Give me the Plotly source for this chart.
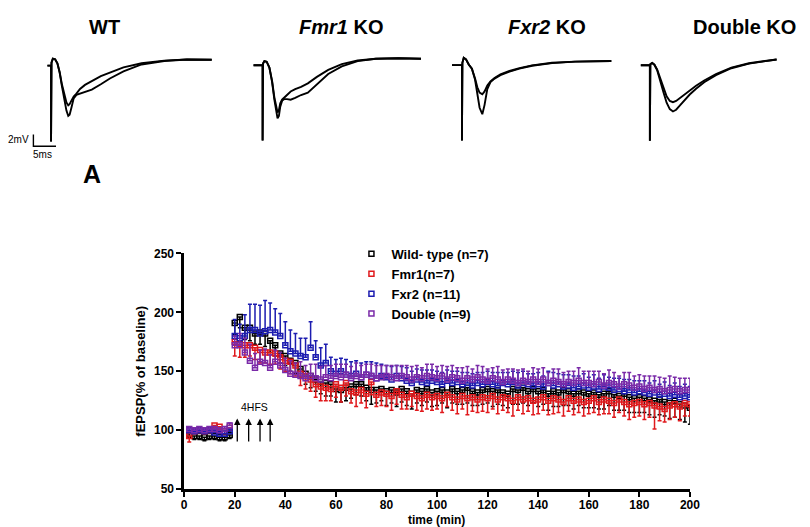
import plotly.graph_objects as go

W, H = 810, 527

# ---------------- LTP time course data ----------------
times = list(range(2, 201, 2))  # 2..200 min

wt_mean = [97, 95, 95, 94, 95, 95, 94, 94, 96,
           191, 196, 187, 187, 182, 183, 182, 176, 172, 165,
           163, 159, 157, 152, 148, 146, 143, 141, 140, 139,
           135, 134, 136, 137, 139, 139, 136, 134, 134, 135,
           133, 134, 132, 135, 133, 131, 134, 133, 135, 132,
           133, 134, 132, 135, 133, 134, 136, 133, 132, 134,
           135, 133, 134, 132, 131, 135, 134, 136, 133, 135,
           133, 134, 131, 133, 132, 134, 133, 131, 133, 132,
           131, 132, 130, 131, 133, 130, 129, 131, 128, 127,
           128, 127, 126, 125, 126, 124, 123, 125, 122, 121,
           119]
wt_err = [3, 3, 3, 3, 3, 3, 3, 3, 3,
          10, 9, 10, 11, 9, 10, 11, 10, 9, 8,
          8, 9, 9, 8, 9, 10, 10, 10, 11, 10,
          11, 10, 11, 10, 9, 10, 11, 12, 11, 10,
          12, 11, 12, 11, 12, 13, 11, 12, 11, 12,
          12, 11, 13, 12, 11, 12, 13, 12, 11, 12,
          12, 13, 12, 11, 12, 13, 12, 13, 12, 12,
          13, 12, 14, 13, 12, 13, 12, 13, 12, 13,
          12, 13, 12, 13, 12, 13, 12, 14, 13, 12,
          13, 12, 13, 14, 13, 12, 13, 14, 13, 14,
          14]

fmr1_mean = [95, 99, 100, 99, 100, 104, 103, 99, 102,
             175, 173, 172, 172, 170, 168, 166, 166, 165, 162,
             159, 158, 155, 148, 146, 143, 139, 137, 136, 135,
             139, 136, 140, 133, 132, 134, 131, 141, 130, 132,
             131, 129, 133, 130, 128, 131, 129, 127, 130, 128,
             129, 127, 130, 128, 126, 129, 127, 128, 126, 128,
             127, 129, 126, 128, 127, 125, 128, 126, 127, 125,
             126, 128, 125, 127, 126, 124, 127, 125, 126, 124,
             125, 127, 124, 126, 125, 123, 126, 124, 122, 123,
             124, 122, 123, 121, 120, 118, 121, 122, 120, 123,
             122]
fmr1_err = [5, 2, 2, 2, 2, 2, 2, 2, 2,
            12, 11, 10, 9, 10, 11, 9, 10, 9, 10,
            9, 10, 9, 10, 11, 10, 11, 12, 11, 10,
            11, 12, 11, 10, 12, 11, 12, 11, 10, 11,
            11, 12, 11, 12, 10, 11, 12, 11, 12, 11,
            11, 12, 10, 11, 12, 11, 14, 12, 11, 12,
            12, 11, 12, 11, 12, 13, 11, 12, 11, 12,
            12, 11, 12, 13, 11, 12, 11, 12, 11, 12,
            11, 12, 11, 12, 11, 12, 11, 12, 13, 12,
            12, 13, 12, 20, 12, 11, 12, 11, 12, 11,
            10]

fxr2_mean = [100, 99, 100, 99, 100, 98, 97, 97, 99,
             180, 178, 180, 185, 185, 182, 184, 185, 183, 180,
             172, 167, 165, 163, 162, 170, 162, 155, 157, 150,
             148, 150, 147, 146, 148, 145, 147, 146, 144, 146,
             145, 143, 146, 144, 142, 140, 143, 141, 140, 142,
             141, 139, 142, 140, 141, 139, 140, 138, 140, 139,
             141, 139, 138, 140, 139, 141, 138, 140, 139, 138,
             139, 137, 140, 138, 139, 137, 138, 136, 137, 138,
             136, 137, 135, 137, 136, 134, 135, 133, 134, 132,
             133, 132, 131, 132, 130, 131, 129, 130, 128, 129,
             128]
fxr2_err = [2, 2, 2, 2, 2, 2, 2, 2, 2,
            14, 12, 18, 22, 22, 24, 26, 23, 20, 19,
            20, 18, 17, 15, 16, 22, 14, 15, 16, 12,
            12, 11, 13, 12, 11, 12, 11, 12, 13, 10,
            10, 11, 9, 10, 11, 10, 9, 10, 11, 9,
            9, 10, 9, 10, 9, 10, 9, 10, 9, 10,
            9, 10, 11, 9, 10, 9, 11, 10, 9, 10,
            10, 9, 10, 11, 9, 10, 9, 10, 9, 10,
            9, 10, 9, 10, 9, 10, 9, 10, 9, 10,
            9, 10, 9, 10, 9, 10, 9, 10, 9, 10,
            9]

double_mean = [101, 100, 101, 100, 101, 101, 100, 101, 104,
               172, 172, 166, 159, 153, 158, 157, 153, 158, 155,
               151, 148, 147, 146, 144, 146, 144, 143, 145, 144,
               146, 145, 147, 144, 146, 145, 147, 146, 144, 145,
               146, 145, 144, 146, 145, 143, 145, 144, 146, 145,
               144, 146, 143, 145, 144, 142, 144, 143, 145, 143,
               142, 144, 143, 141, 143, 142, 140, 142, 141, 143,
               141, 143, 140, 142, 141, 139, 141, 140, 142, 140,
               140, 139, 141, 138, 140, 139, 137, 139, 138, 136,
               137, 135, 136, 134, 135, 133, 134, 135, 133, 134,
               134]
double_err = [2, 2, 2, 2, 2, 2, 2, 2, 2,
              8, 10, 12, 14, 12, 10, 12, 11, 10, 11,
              10, 11, 10, 12, 11, 10, 12, 11, 10, 11,
              10, 11, 9, 10, 11, 10, 9, 10, 11, 10,
              9, 10, 11, 9, 10, 11, 10, 9, 10, 11,
              10, 9, 11, 10, 9, 11, 10, 9, 10, 11,
              10, 9, 11, 10, 9, 10, 11, 10, 9, 10,
              11, 10, 9, 10, 11, 10, 9, 10, 11, 10,
              10, 11, 9, 10, 11, 10, 9, 10, 11, 10,
              10, 11, 10, 12, 10, 11, 12, 10, 11, 10,
              10]

series_names = ["Wild- type (n=7)", "Fmr1(n=7)", "Fxr2 (n=11)", "Double (n=9)"]
hfs_times = [21, 25.5, 30, 34]
hfs_arrow_from, hfs_arrow_to = 89, 110
x_ticks = [0, 20, 40, 60, 80, 100, 120, 140, 160, 180, 200]
y_ticks = [50, 100, 150, 200, 250]

# ---------------- fEPSP example traces (ms, mV) ----------------
wt_t = [-0.8, 0, 0, 0.1, 0.4, 0.9, 1.4, 1.9, 2.4, 2.9, 3.4, 3.8, 4.1, 4.5, 5.0, 5.6, 6.4, 7.5, 9, 11, 13, 16, 20, 25, 30, 35.5]
wt_v1 = [-1.0, -1.0, -14.0, -0.5, 0.2, 0.1, -0.6, -2.2, -4.5, -6.8, -8.7, -9.6, -9.4, -8.2, -6.6, -6.0, -5.8, -5.5, -5.1, -4.2, -3.2, -2.0, -0.8, -0.2, 0.05, 0.0]
wt_v2 = [-1.0, -1.0, -14.0, -0.5, 0.2, 0.1, -0.6, -2.1, -4.2, -6.0, -7.3, -7.8, -7.6, -7.0, -6.3, -5.8, -5.0, -4.3, -3.6, -2.8, -2.2, -1.3, -0.6, -0.15, 0.05, 0.0]

fmr1_t = [-2.0, 0, 0, 0.1, 0.4, 0.9, 1.5, 2.1, 2.6, 3.0, 3.3, 3.6, 3.9, 4.3, 4.8, 5.4, 6.2, 7.2, 8.5, 10, 12, 14.5, 17.5, 21, 25, 30, 35]
fmr1_v1 = [-1.1, -1.1, -14.0, -0.8, -0.4, -0.5, -1.5, -4.0, -7.0, -9.2, -10.2, -9.8, -8.2, -7.2, -6.9, -6.9, -7.0, -6.7, -6.2, -5.8, -4.3, -2.6, -1.3, -0.4, 0.0, 0.1, 0.0]
fmr1_v2 = [-1.1, -1.1, -14.0, -0.8, -0.4, -0.5, -1.5, -3.8, -6.6, -8.5, -9.2, -8.8, -7.6, -7.0, -6.6, -6.2, -5.6, -5.2, -4.8, -4.2, -3.1, -1.9, -0.9, -0.3, 0.0, 0.1, 0.0]

fxr2_t = [-2.2, 0, 0, 0.1, 0.4, 0.9, 1.5, 2.2, 2.9, 3.4, 3.9, 4.5, 5.0, 5.6, 6.3, 7.2, 8.5, 10.5, 12.7, 15.5, 19.9, 25, 33]
fxr2_v1 = [-0.7, -0.7, -13.6, -0.3, 0.55, 0.3, -0.6, -1.3, -3.2, -5.5, -8.0, -9.1, -7.5, -4.8, -3.6, -3.0, -2.4, -1.8, -1.3, -0.8, -0.35, -0.1, 0.0]
fxr2_v2 = [-0.7, -0.7, -13.6, -0.3, 0.55, 0.3, -0.6, -1.3, -3.0, -4.5, -5.4, -5.7, -5.2, -4.2, -3.5, -2.9, -2.3, -1.7, -1.2, -0.75, -0.3, -0.1, 0.0]

dko_t = [-2.0, 0, 0, 0.1, 0.5, 1.0, 1.6, 2.3, 3.0, 3.7, 4.4, 5.1, 5.8, 6.6, 7.6, 8.8, 10.2, 12, 14.6, 18, 21.9, 25, 28]
dko_v1 = [-1.0, -1.0, -13.9, -0.8, -0.6, -0.9, -1.8, -3.5, -5.6, -7.4, -8.5, -8.9, -8.6, -7.9, -7.0, -6.0, -5.0, -3.9, -2.7, -1.5, -0.7, -0.3, 0.0]
dko_v2 = [-1.0, -1.0, -13.9, -0.8, -0.6, -0.9, -1.7, -3.2, -4.9, -6.3, -7.1, -7.3, -7.1, -6.6, -6.0, -5.3, -4.5, -3.6, -2.5, -1.4, -0.65, -0.3, 0.0]

scale_ms = [-3.9, -3.9, 1.1]
scale_mv = [-12.8, -14.8, -14.8]

# ---------------- helpers ----------------
def px(x):
    return x / W

def py(y):
    return 1 - y / H

FONT = "Arial, Liberation Sans, sans-serif"
colors = ["#000000", "#e0191c", "#1c1cb0", "#7a2aa8"]

fig = go.Figure()

# main chart traces
all_means = [wt_mean, fmr1_mean, fxr2_mean, double_mean]
all_errs = [wt_err, fmr1_err, fxr2_err, double_err]
err_up = [False, False, True, True]
for name, m, e, c, up in zip(series_names, all_means, all_errs, colors, err_up):
    zeros = [0] * len(e)
    fig.add_trace(go.Scatter(
        x=times, y=m, name=name, mode="markers",
        marker=dict(symbol="square-open", size=5, color=c, line=dict(width=1.5, color=c)),
        error_y=dict(type="data", symmetric=False,
                     array=e if up else zeros,
                     arrayminus=zeros if up else e,
                     color=c, thickness=1.5, width=2),
        xaxis="x", yaxis="y", showlegend=True,
    ))

# example traces panels
panels = [
    (wt_t, wt_v1, wt_v2),
    (fmr1_t, fmr1_v1, fmr1_v2),
    (fxr2_t, fxr2_v1, fxr2_v2),
    (dko_t, dko_v1, dko_v2),
]
# artifact pixel x, baseline pixel y for each panel (layout)
panel_pos = [(40.7, 46), (255.7, 45), (458.3, 47.3), (649.3, 45.7)]
PX_MS, PX_MV = 4.6, 6.0
XR0, XR1 = -5, 38
YR = [-16, 3]

layout_axes = {}
for i, ((t, v1, v2), (ax0, by)) in enumerate(zip(panels, panel_pos)):
    k = i + 2
    for v in (v1, v2):
        fig.add_trace(go.Scatter(x=t, y=v, mode="lines",
                                 line=dict(color="black", width=1.9),
                                 xaxis=f"x{k}", yaxis=f"y{k}", showlegend=False,
                                 hoverinfo="skip"))
    if i == 0:
        fig.add_trace(go.Scatter(x=scale_ms, y=scale_mv, mode="lines",
                                 line=dict(color="black", width=1.4),
                                 xaxis="x2", yaxis="y2", showlegend=False,
                                 hoverinfo="skip"))
    x_left = ax0 + XR0 * PX_MS
    x_right = min(ax0 + XR1 * PX_MS, W - 1)
    xr = [XR0, (x_right - ax0) / PX_MS]
    y_top = by - YR[1] * PX_MV
    y_bot = by - YR[0] * PX_MV
    layout_axes[f"xaxis{k}"] = dict(domain=[px(x_left), px(x_right)], range=xr,
                                     visible=False, anchor=f"y{k}", fixedrange=True)
    layout_axes[f"yaxis{k}"] = dict(domain=[py(y_bot), py(y_top)], range=YR,
                                     visible=False, anchor=f"x{k}", fixedrange=True)

annotations = []
titles = [("WT", 95), ("<i>Fmr1</i> KO", 335), ("<i>Fxr2</i> KO", 545), ("Double KO", 745)]
for txt, cx in titles:
    annotations.append(dict(text=txt, x=px(cx), y=py(12), xref="paper", yref="paper",
                             showarrow=False, xanchor="center", yanchor="middle",
                             font=dict(family=FONT, size=20, color="black", weight="bold")))
annotations.append(dict(text="2mV", x=px(20.5), y=py(128), xref="paper", yref="paper",
                        showarrow=False, xanchor="right", yanchor="middle",
                        font=dict(family=FONT, size=10, color="black")))
annotations.append(dict(text="5ms", x=px(32), y=py(143), xref="paper", yref="paper",
                        showarrow=False, xanchor="center", yanchor="middle",
                        font=dict(family=FONT, size=10, color="black")))
annotations.append(dict(text="A", x=px(82), y=py(163), xref="paper", yref="paper",
                        showarrow=False, xanchor="center", yanchor="middle",
                        font=dict(family=FONT, size=25, color="black", weight="bold")))
# x-axis title placed explicitly so it stays inside the page
annotations.append(dict(text="time (min)", x=px(432), y=py(526.5), xref="paper", yref="paper",
                        showarrow=False, xanchor="center", yanchor="bottom", borderpad=0,
                        font=dict(family=FONT, size=12, color="black", weight="bold")))
# HFS arrows
for t in hfs_times:
    annotations.append(dict(x=t, y=hfs_arrow_to, ax=t, ay=hfs_arrow_from,
                            xref="x", yref="y", axref="x", ayref="y",
                            showarrow=True, arrowhead=2, arrowsize=1, arrowwidth=1.3,
                            arrowcolor="black", text=""))
annotations.append(dict(text="4HFS", x=sum(hfs_times) / len(hfs_times), y=120,
                        xref="x", yref="y", showarrow=False,
                        font=dict(family=FONT, size=10.5, color="black")))

fig.update_layout(
    width=W, height=H,
    margin=dict(l=0, r=0, t=0, b=0),
    paper_bgcolor="white", plot_bgcolor="white",
    font=dict(family=FONT, color="black"),
    xaxis=dict(domain=[px(176), px(690)], range=[0, 200], tickvals=x_ticks,
               showline=True, linecolor="black", linewidth=2.5, ticks="outside",
               ticklen=5, tickwidth=2, tickcolor="black", showgrid=False, zeroline=False,
               ticklabelstandoff=-2,
               tickfont=dict(family=FONT, size=12, color="black", weight="bold"),
               anchor="y"),
    yaxis=dict(domain=[py(487), py(245)], range=[50, 250], tickvals=y_ticks,
               showline=True, linecolor="black", linewidth=2.5, ticks="outside",
               ticklen=5, tickwidth=2, tickcolor="black", showgrid=False, zeroline=False,
               tickfont=dict(family=FONT, size=12, color="black", weight="bold"),
               title=dict(text="fEPSP(% of baseline)", standoff=6,
                          font=dict(family=FONT, size=13, color="black", weight="bold")),
               anchor="x"),
    legend=dict(x=px(346), y=py(230), xanchor="left", yanchor="top",
                bgcolor="rgba(0,0,0,0)", borderwidth=0,
                font=dict(family=FONT, size=13, color="black", weight="bold"),
                itemwidth=30, tracegroupgap=0),
    annotations=annotations,
    **layout_axes,
)

fig.write_html("out.html")
